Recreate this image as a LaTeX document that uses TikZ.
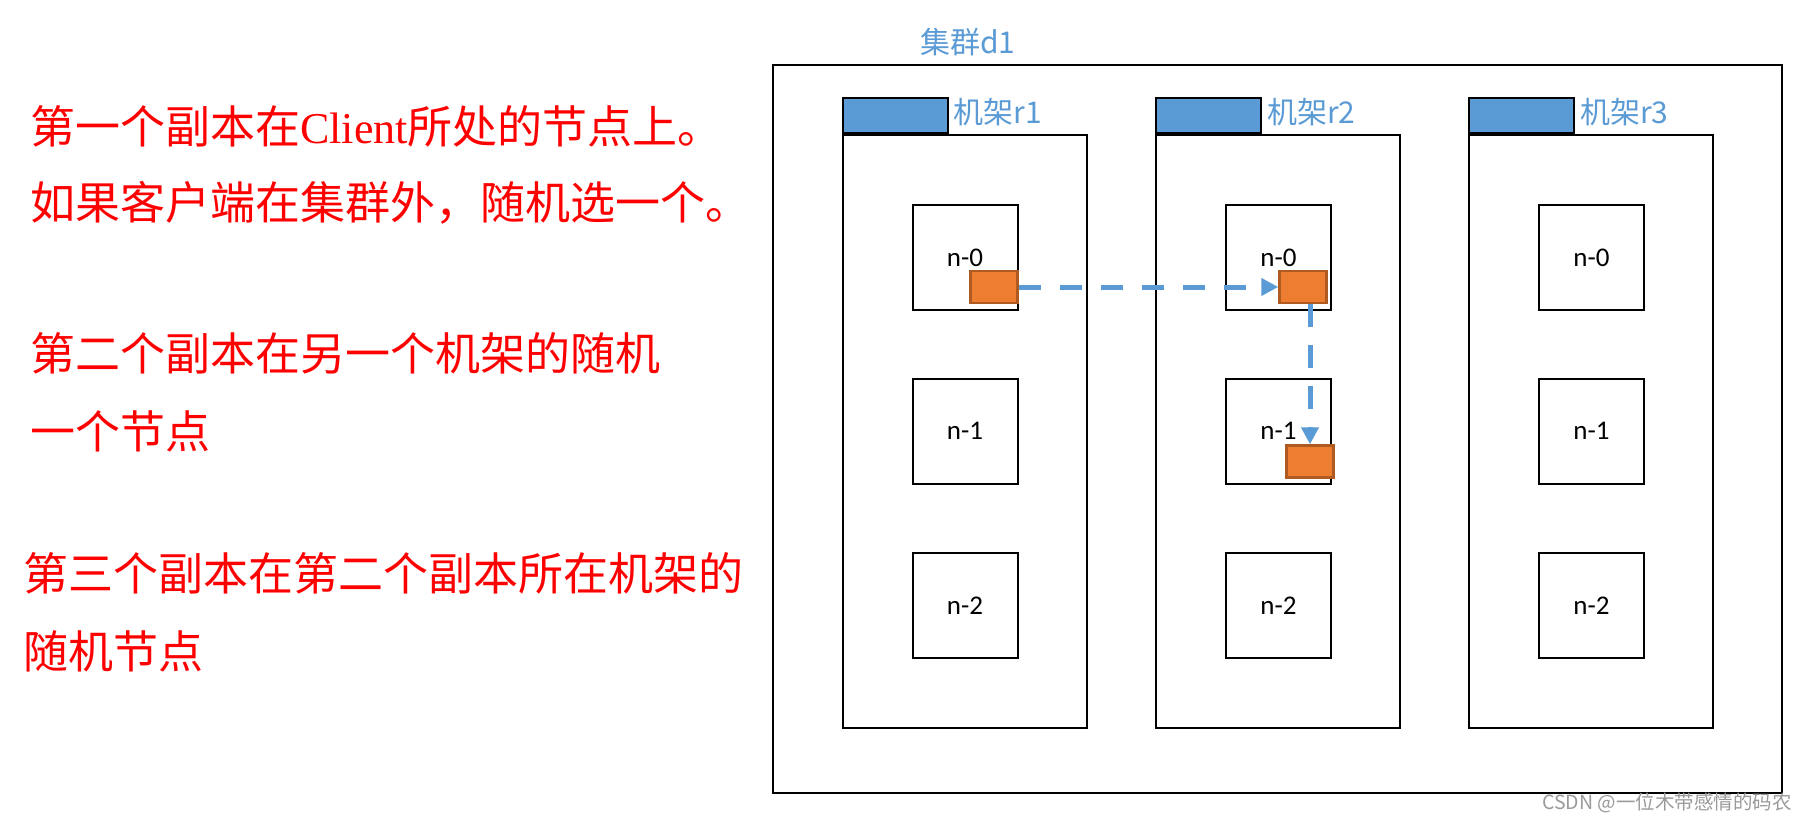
\documentclass[tikz,border=0pt]{standalone}
\usepackage{fontspec}
\setmainfont{Noto Sans CJK SC}
\newfontfamily\latinserif{Liberation Serif}
\newfontfamily\nodefont{Carlito}
\usetikzlibrary{arrows.meta}
\definecolor{hblue}{HTML}{5B9BD5}
\definecolor{horange}{HTML}{ED7D31}
\definecolor{horangedark}{HTML}{AE5A21}
\definecolor{hred}{HTML}{FF0000}
\definecolor{wmgray}{HTML}{9A9A9A}
\tikzset{
  redtext/.style={anchor=base west, inner sep=0pt, text=hred, font=\fontsize{45}{54}\selectfont},
  rackbox/.style={draw=black, line width=2pt, minimum width=244pt, minimum height=593pt, anchor=north west, inner sep=0pt},
  racktab/.style={draw=black, line width=2pt, fill=hblue, minimum width=105pt, minimum height=35pt, anchor=south west, inner sep=0pt},
  racklabel/.style={anchor=west, inner sep=0pt, text=hblue, font=\fontsize{30}{36}\selectfont},
  hnode/.style={draw=black, line width=2pt, minimum width=105pt, minimum height=105pt, anchor=north west, inner sep=0pt, font=\nodefont\fontsize{27}{32}\selectfont},
  replica/.style={draw=horangedark, line width=2.5pt, fill=horange, minimum width=47pt, minimum height=32pt, inner sep=0pt},
  flow/.style={draw=hblue, line width=5pt, dash pattern=on 22.7pt off 18.3pt, -{Triangle[length=17pt,width=17pt,fill=hblue]}}
}
\begin{document}
\begin{tikzpicture}[x=1pt,y=-1pt]
\useasboundingbox (0,0) rectangle (1807,821);
\fill[white] (0,0) rectangle (1807,821);

% left explanatory text
\node[redtext] (t1) at (30,144) {第一个副本在{\latinserif\fontsize{44}{54}\selectfont Client}所处的节点上。};
\node[redtext] (t2) at (30,219) {如果客户端在集群外，随机选一个。};
\node[redtext] (t3) at (30,370) {第二个副本在另一个机架的随机};
\node[redtext] (t4) at (30,448) {一个节点};
\node[redtext] (t5) at (23,590) {第三个副本在第二个副本所在机架的};
\node[redtext] (t6) at (23,668) {随机节点};

% cluster
\node[draw=black, line width=2pt, minimum width=1009pt, minimum height=728pt, anchor=north west, inner sep=0pt] (cluster) at (772,64) {};
\node[anchor=west, inner sep=0pt, text=hblue, font=\fontsize{30}{36}\selectfont] (clabel) at (920,42) {集群d1};

% racks
\foreach \i/\x in {1/841.5, 2/1155, 3/1468} {
  \node[rackbox] (rack\i) at (\x,134) {};
  \node[racktab] (tab\i) at (\x,134) {};
  \node[racklabel] (rlabel\i) at (\x+112,112) {机架r\i};
  \foreach \j/\y in {0/204, 1/377.5, 2/552} {
    \node[hnode] (n\i\j) at (\x+70,\y) {n-\j};
  }
}

% replicas
\node[replica] (rep1) at (994,287) {};
\node[replica] (rep2) at (1303,287) {};
\node[replica] (rep3) at (1310,461.5) {};

% replication flow
\draw[flow] (rep1.east) -- (rep2.west);
\draw[flow] (rep2.south -| rep3.north) -- (rep3.north);

% watermark
\node[anchor=east, inner sep=0pt, text=wmgray, font=\fontsize{19.5}{23}\selectfont] (wm) at (1792,803) {CSDN @一位木带感情的码农};
\end{tikzpicture}
\end{document}
